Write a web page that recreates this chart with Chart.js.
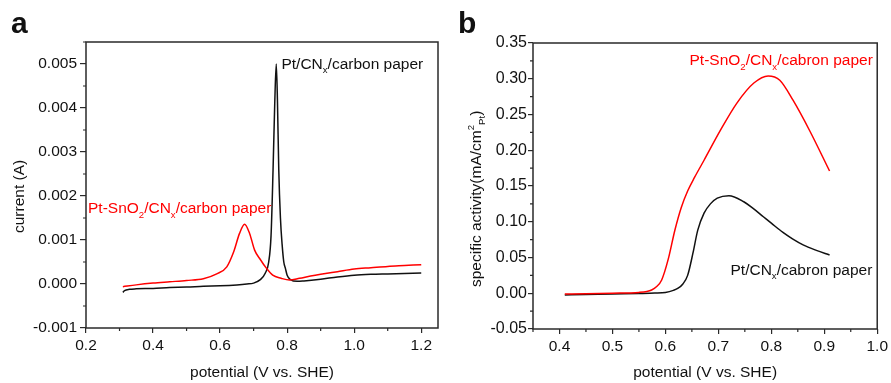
<!DOCTYPE html>
<html><head><meta charset="utf-8">
<script src="https://cdn.jsdelivr.net/npm/chart.js@4.4.1/dist/chart.umd.min.js"></script>
<style>
html,body{margin:0;padding:0;background:#fff;width:891px;height:383px;overflow:hidden;}
canvas{position:absolute;top:0;}
#ca{left:0;}
#cb{left:445px;}
.lbl{position:absolute;font-family:"Liberation Sans",Arial,sans-serif;font-weight:bold;font-size:30px;line-height:30px;color:#111;}
</style></head><body>
<canvas id="ca" width="445" height="383"></canvas>
<canvas id="cb" width="446" height="383"></canvas>
<div class="lbl" style="left:11px;top:8px">a</div>
<div class="lbl" style="left:458px;top:8px">b</div>
<script>
// ---------- Panel a data ----------
const potentialA_Pt = [0.31,0.315,0.33,0.35,0.40,0.45,0.50,0.55,0.60,0.65,0.68,0.70,0.72,0.735,0.745,0.752,0.758,0.763,0.7675,0.771,0.775,0.780,0.785,0.790,0.795,0.80,0.81,0.83,0.85,0.90,0.95,1.00,1.05,1.10,1.15,1.20];
const currentA_Pt   = [-0.00019,-0.00015,-0.00012,-0.00011,-0.00010,-0.00008,-0.00007,-0.00005,-0.00004,-0.00002,0.0,0.00002,0.0001,0.00025,0.0005,0.0011,0.0026,0.0041,0.0050,0.0042,0.0026,0.0015,0.0009,0.0005,0.00035,0.0002,0.0001,0.00006,0.00007,0.00011,0.00016,0.0002,0.00022,0.00023,0.00024,0.00025];
const potentialA_PtSn = [0.31,0.35,0.40,0.45,0.50,0.55,0.59,0.62,0.64,0.658,0.673,0.688,0.703,0.718,0.738,0.757,0.782,0.807,0.837,0.87,0.90,0.95,1.00,1.05,1.10,1.15,1.20];
const currentA_PtSn   = [-0.00006,-0.00002,0.00002,0.00005,0.00008,0.00012,0.00023,0.00039,0.00072,0.00115,0.00136,0.00115,0.00077,0.00058,0.00036,0.0002,0.00013,0.00009,0.00013,0.00018,0.00022,0.00028,0.00034,0.00037,0.0004,0.00042,0.00044];
const ticksA_x = [0.2,0.4,0.6,0.8,1.0,1.2];
const ticksA_y = [-0.001,0.0,0.001,0.002,0.003,0.004,0.005];

// ---------- Panel b data ----------
const potentialB_Pt = [0.41,0.45,0.50,0.55,0.58,0.60,0.615,0.624,0.633,0.642,0.652,0.661,0.673,0.685,0.698,0.72,0.748,0.765,0.785,0.80,0.822,0.84,0.86,0.885,0.91];
const activityB_Pt  = [-0.0024,-0.0018,-0.001,-0.0003,0.0003,0.0012,0.004,0.007,0.013,0.025,0.056,0.088,0.112,0.125,0.133,0.1365,0.128,0.119,0.107,0.098,0.085,0.076,0.0676,0.060,0.0536];
const potentialB_PtSn = [0.41,0.45,0.50,0.55,0.565,0.574,0.583,0.593,0.605,0.618,0.630,0.642,0.655,0.673,0.704,0.735,0.767,0.794,0.816,0.841,0.872,0.91];
const activityB_PtSn  = [-0.001,-0.0008,0.0,0.0012,0.0025,0.0046,0.009,0.0186,0.0466,0.0885,0.120,0.143,0.162,0.186,0.228,0.266,0.294,0.304,0.298,0.270,0.228,0.171];
const ticksB_x = [0.4,0.5,0.6,0.7,0.8,0.9,1.0];
const ticksB_y = [-0.05,0.0,0.05,0.10,0.15,0.20,0.25,0.30,0.35];

const FONT = '"Liberation Sans", Arial, sans-serif';
const RED = '#ff0000', BLK = '#111111', AXC = '#2a2a2a';

function pts(xs, ys){ return xs.map((x,i)=>({x:x, y:ys[i]})); }
function minors(majors, lo, hi){
  const step = (majors[1]-majors[0])/2, out=[];
  for (let v = majors[0]-step; v >= lo-1e-9; v -= step) out.push(v);
  for (let i=0;i<majors.length;i++){ out.push(majors[i]+step); }
  return out.filter(v=>v>=lo-1e-9 && v<=hi+1e-9);
}
function drawRich(ctx, x, y, parts, size, color, rot){
  ctx.save();
  ctx.translate(x, y);
  if (rot) ctx.rotate(rot);
  ctx.fillStyle = color; ctx.textBaseline = 'alphabetic'; ctx.textAlign = 'left';
  let cx = 0;
  parts.forEach(p=>{
    let fs = size, dy = 0;
    if (p.sub){ fs = size*0.62; dy = size*0.28; }
    if (p.sup){ fs = size*0.62; dy = -size*0.45; }
    ctx.font = fs + 'px ' + FONT;
    ctx.fillText(p.t, cx, dy);
    cx += ctx.measureText(p.t).width + (p.gap||0);
  });
  ctx.restore();
}

const framePlugin = {
  id: 'frame',
  afterDraw(chart, args, opts){
    const {ctx, chartArea:a, scales} = chart;
    ctx.save();
    ctx.strokeStyle = AXC; ctx.lineWidth = 1.5;
    ctx.strokeRect(a.left, a.top, a.right-a.left, a.bottom-a.top);
    ctx.lineWidth = 1.2; ctx.beginPath();
    opts.minorX.forEach(v=>{ const p = scales.x.getPixelForValue(v); ctx.moveTo(p, a.bottom); ctx.lineTo(p, a.bottom+3); });
    opts.minorY.forEach(v=>{ const p = scales.y.getPixelForValue(v); ctx.moveTo(a.left, p); ctx.lineTo(a.left-3, p); });
    ctx.stroke();
    ctx.restore();
    (opts.notes||[]).forEach(n=>{
      drawRich(ctx, scales.x.getPixelForValue(n.x), scales.y.getPixelForValue(n.y), n.parts, 15.5, n.color, 0);
    });
    if (opts.ytitle){
      const t = opts.ytitle;
      drawRich(ctx, t.cx, t.bottom, t.parts, 15.5, BLK, -Math.PI/2);
    }
  }
};

function makeOpts(cfg){
  return {
    responsive:false, animation:false, devicePixelRatio:1,
    layout:{padding:{top:cfg.top, right:cfg.right, left:0, bottom:0}},
    plugins:{legend:{display:false}, tooltip:{enabled:false},
      frame:{minorX:cfg.minorX, minorY:cfg.minorY, notes:cfg.notes, ytitle:cfg.ytitle}},
    scales:{
      x:{type:'linear', min:cfg.xmin, max:cfg.xmax,
        afterBuildTicks:(s)=>{ s.ticks = cfg.xt.map(v=>({value:v})); },
        afterFit:(s)=>{ s.height = cfg.xh; },
        ticks:{font:{family:FONT,size:15.5}, color:BLK, padding:3, maxRotation:0, autoSkip:false,
          callback:(v)=>Number(v).toFixed(cfg.xdec)},
        grid:{drawOnChartArea:false, drawTicks:true, tickLength:5, color:AXC, lineWidth:1.2},
        border:{display:false},
        title:{display:true, text:'potential (V vs. SHE)', font:{family:FONT,size:15.5}, color:BLK, padding:{top:0,bottom:1}}
      },
      y:{type:'linear', min:cfg.ymin, max:cfg.ymax,
        afterBuildTicks:(s)=>{ s.ticks = cfg.yt.map(v=>({value:v})); },
        afterFit:(s)=>{ s.width = cfg.yw; },
        ticks:{font:{family:FONT,size:cfg.yfs}, color:BLK, padding:cfg.ypad, autoSkip:false,
          callback:(v)=>Number(v).toFixed(cfg.ydec)},
        grid:{drawOnChartArea:false, drawTicks:true, tickLength:cfg.ytl, color:AXC, lineWidth:1.2},
        border:{display:false}
      }
    }
  };
}
function ds(xs, ys, color){
  return {data:pts(xs,ys), showLine:true, borderColor:color, backgroundColor:color, borderWidth:1.5,
    pointRadius:0, cubicInterpolationMode:'monotone', tension:0.3, fill:false};
}

new Chart(document.getElementById('ca'), {
  type:'scatter',
  data:{datasets:[ds(potentialA_PtSn, currentA_PtSn, RED), ds(potentialA_Pt, currentA_Pt, BLK)]},
  options: makeOpts({top:42, right:7, xh:55, yw:86, xmin:0.2, xmax:1.25, ymin:-0.001, ymax:0.0055,
    xt:ticksA_x, yt:ticksA_y, xdec:1, ydec:3, yfs:15.5, ypad:3, ytl:6,
    minorX:minors(ticksA_x,0.2,1.25), minorY:minors(ticksA_y,-0.001,0.0055),
    notes:[
      {x:0.783, y:0.00489, color:BLK, parts:[{t:'Pt/CN'},{t:'x',sub:true},{t:'/carbon paper'}]},
      {x:0.206, y:0.00161, color:RED, parts:[{t:'Pt-SnO'},{t:'2',sub:true},{t:'/CN'},{t:'x',sub:true},{t:'/carbon paper'}]}
    ],
    ytitle:{cx:24, bottom:233, parts:[{t:'current (A)'}]}
  }),
  plugins:[framePlugin]
});

new Chart(document.getElementById('cb'), {
  type:'scatter',
  data:{datasets:[ds(potentialB_PtSn, activityB_PtSn, RED), ds(potentialB_Pt, activityB_Pt, BLK)]},
  options: makeOpts({top:43, right:9, xh:54, yw:88, xmin:0.35, xmax:1.0, ymin:-0.05, ymax:0.35,
    xt:ticksB_x, yt:ticksB_y, xdec:1, ydec:2, yfs:16, ypad:1, ytl:5,
    minorX:minors(ticksB_x,0.35,1.0), minorY:minors(ticksB_y,-0.05,0.35),
    notes:[
      {x:0.6455, y:0.319, color:RED, parts:[{t:'Pt-SnO'},{t:'2',sub:true},{t:'/CN'},{t:'x',sub:true},{t:'/cabron paper'}]},
      {x:0.723, y:0.0256, color:BLK, parts:[{t:'Pt/CN'},{t:'x',sub:true},{t:'/cabron paper'}]}
    ],
    ytitle:{cx:36, bottom:287, parts:[{t:'specific activity(mA/cm'},{t:'2',sup:true},{t:'Pt',sub:true},{t:')'}]}
  }),
  plugins:[framePlugin]
});
</script>
</body></html>
